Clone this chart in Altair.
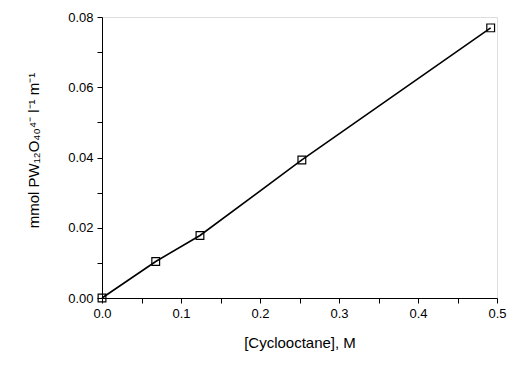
import altair as alt
import pandas as pd

conc = [0.0, 0.068, 0.124, 0.253, 0.492]
rate = [0.0, 0.0104, 0.0178, 0.0393, 0.0769]

df = pd.DataFrame({"conc": conc, "rate": rate})

x_ticks = [0.0, 0.05, 0.1, 0.15, 0.2, 0.25, 0.3, 0.35, 0.4, 0.45, 0.5]
y_ticks = [0.0, 0.01, 0.02, 0.03, 0.04, 0.05, 0.06, 0.07, 0.08]

font = "Liberation Sans"

x = alt.X("conc:Q", scale=alt.Scale(domain=[0, 0.5], nice=False, zero=False),
          axis=alt.Axis(title="[Cyclooctane], M", values=x_ticks, grid=False,
                        labelExpr="round(datum.value*100) % 10 == 0 ? format(datum.value, '.1f') : ''",
                        labelFlush=False, labelOverlap=False,
                        tickSize=5, tickColor="black", domainColor="black",
                        labelFont=font, labelFontSize=13, labelColor="black",
                        titleFont=font, titleFontSize=15, titleFontWeight="normal",
                        titleColor="black", titlePadding=15, labelPadding=4))
y = alt.Y("rate:Q", scale=alt.Scale(domain=[0, 0.08], nice=False, zero=False),
          axis=alt.Axis(title="mmol PW₁₂O₄₀⁴⁻ l⁻¹ m⁻¹", values=y_ticks, grid=False,
                        labelExpr="round(datum.value*100) % 2 == 0 ? format(datum.value, '.2f') : ''",
                        labelFlush=False, labelOverlap=False,
                        tickSize=5, tickColor="black", domainColor="black",
                        labelFont=font, labelFontSize=13, labelColor="black",
                        titleFont=font, titleFontSize=15, titleFontWeight="normal",
                        titleColor="black", titlePadding=26, labelPadding=4,
                        titleY=133))

line = alt.Chart(df).mark_line(color="black", strokeWidth=1.6).encode(x=x, y=y)
pts = alt.Chart(df).mark_point(shape="square", size=60, filled=False, color="black",
                               strokeWidth=1.2, opacity=1).encode(x=x, y=y)

chart = (line + pts).properties(
    width=395, height=281,
    autosize=alt.AutoSizeParams(type="none"),
    padding={"left": 102, "top": 17, "right": 16, "bottom": 69},
).configure_view(stroke="black", strokeWidth=1.2).configure(background="white")

chart.save("out.html", embed_options={"renderer": "svg", "actions": False})
